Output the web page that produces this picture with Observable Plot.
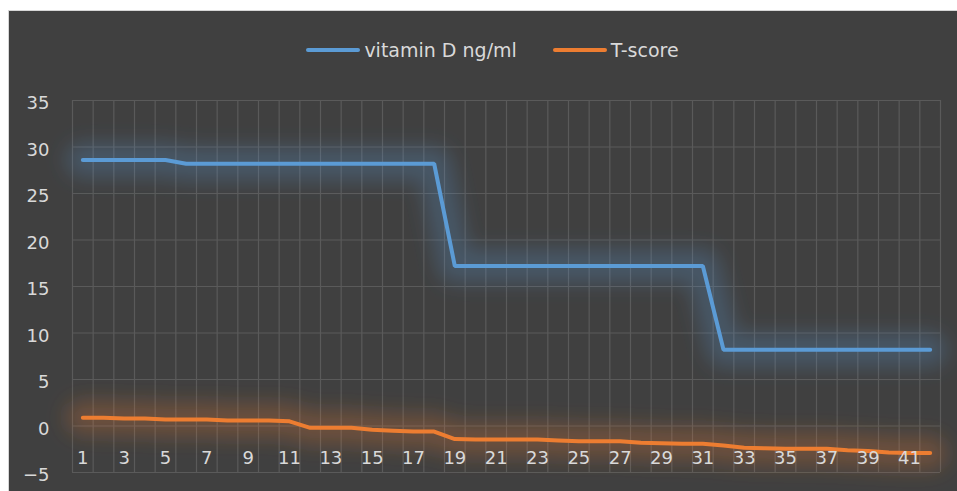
<!DOCTYPE html>
<html>
<head>
<meta charset="utf-8">
<script src="https://cdn.jsdelivr.net/npm/d3@7"></script>
<script src="https://cdn.jsdelivr.net/npm/@observablehq/plot@0.6"></script>
<style>
  html, body { margin: 0; padding: 0; background: #ffffff; width: 957px; height: 491px; overflow: hidden; }
  #frame { position: absolute; left: 8px; top: 10px; width: 949px; height: 481px;
           border-left: 1px solid #d6d6d6; border-top: 1px solid #d6d6d6; background: #404040; }
  #legend { height: 70px; display: flex; justify-content: center; align-items: center;
            padding-left: 18px; box-sizing: border-box; padding-top: 8px;
            font-family: "DejaVu Sans", sans-serif; font-size: 19px; color: #d9d9d9; }
  .item { display: flex; align-items: center; }
  .swatch { width: 54px; height: 4px; border-radius: 2px; margin-right: 4px; }
  .gap { width: 36px; }
  svg { display: block; overflow: visible; }
</style>
</head>
<body>
<div id="frame">
  <div id="legend"></div>
  <div id="chart"></div>
</div>
<script>
const categories = Array.from({length: 42}, (_, i) => i + 1);
const vitaminD = [28.6,28.6,28.6,28.6,28.6,28.2,28.2,28.2,28.2,28.2,28.2,28.2,28.2,28.2,28.2,28.2,28.2,28.2,
                  17.2,17.2,17.2,17.2,17.2,17.2,17.2,17.2,17.2,17.2,17.2,17.2,17.2,
                  8.2,8.2,8.2,8.2,8.2,8.2,8.2,8.2,8.2,8.2,8.2];
const tScore = [0.9,0.9,0.8,0.8,0.7,0.7,0.7,0.6,0.6,0.6,0.5,-0.2,-0.2,-0.2,-0.4,-0.5,-0.6,-0.6,
                -1.4,-1.45,-1.45,-1.45,-1.45,-1.55,-1.65,-1.65,-1.65,-1.8,-1.85,-1.9,-1.9,
                -2.1,-2.35,-2.4,-2.45,-2.45,-2.45,-2.6,-2.7,-2.85,-2.9,-2.9];
const seriesNames = ["vitamin D ng/ml", "T-score"];
const seriesColors = ["#5b9bd5", "#ed7d31"];
const yTicks = [-5, 0, 5, 10, 15, 20, 25, 30, 35];
const xTickLabels = categories.filter(c => c % 2 === 1);

const rows = [];
categories.forEach((c, i) => {
  rows.push({cat: c, value: vitaminD[i], series: seriesNames[0]});
  rows.push({cat: c, value: tScore[i], series: seriesNames[1]});
});
const boundaries = [categories[0] - 0.5, ...categories.map(c => c + 0.5)];

const legend = document.getElementById("legend");
seriesNames.forEach((name, i) => {
  if (i > 0) { const g = document.createElement("div"); g.className = "gap"; legend.appendChild(g); }
  const item = document.createElement("div"); item.className = "item";
  const sw = document.createElement("div"); sw.className = "swatch"; sw.style.background = seriesColors[i];
  const tx = document.createElement("span"); tx.textContent = name;
  item.appendChild(sw); item.appendChild(tx); legend.appendChild(item);
});

const plot = Plot.plot({
  width: 948,
  height: 410,
  marginLeft: 63,
  marginRight: 17,
  marginTop: 19,
  marginBottom: 19,
  style: {background: "transparent", color: "#d9d9d9", fontFamily: "DejaVu Sans, sans-serif", fontSize: "18px"},
  x: {type: "linear", domain: [boundaries[0], boundaries[boundaries.length - 1]], label: null},
  y: {domain: [-5, 35], label: null},
  color: {domain: seriesNames, range: seriesColors},
  marks: [
    Plot.ruleX(boundaries, {stroke: "#5a5a5a", strokeWidth: 1.2}),
    Plot.ruleY(yTicks, {stroke: "#5a5a5a", strokeWidth: 1.2}),
    Plot.line(rows, {x: "cat", y: "value", z: "series", stroke: "series", strokeWidth: 34, strokeOpacity: 0.26, strokeLinecap: "round"}),
    Plot.line(rows, {x: "cat", y: "value", z: "series", stroke: "series", strokeWidth: 4, strokeLinejoin: "miter", strokeLinecap: "round"}),
    Plot.axisY(yTicks, {tickSize: 0, tickPadding: 23, dy: 3, fill: "#d9d9d9", label: null}),
    Plot.axisX(xTickLabels, {anchor: "bottom", tickSize: 0, tickPadding: 0, dy: -21, fill: "#d9d9d9", label: null, tickFormat: d => String(d)})
  ]
});
document.getElementById("chart").appendChild(plot);

// soft glow filter (Excel-style glow) on the wide translucent line
const ns = "http://www.w3.org/2000/svg";
const defs = document.createElementNS(ns, "defs");
const filter = document.createElementNS(ns, "filter");
filter.setAttribute("id", "glowBlur");
filter.setAttribute("filterUnits", "userSpaceOnUse");
filter.setAttribute("x", "-60"); filter.setAttribute("y", "-60");
filter.setAttribute("width", "1100"); filter.setAttribute("height", "540");
const blur = document.createElementNS(ns, "feGaussianBlur");
blur.setAttribute("stdDeviation", "10");
filter.appendChild(blur);
defs.appendChild(filter);
plot.insertBefore(defs, plot.firstChild);
plot.querySelectorAll('g[stroke-width="34"]').forEach(g => g.setAttribute("filter", "url(#glowBlur)"));
</script>
</body>
</html>
